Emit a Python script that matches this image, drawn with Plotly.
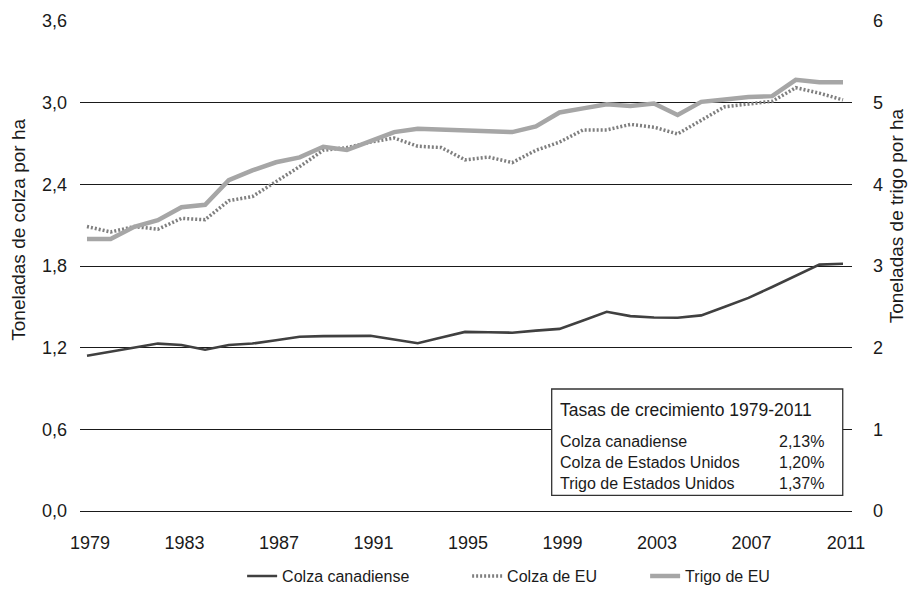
import plotly.graph_objects as go

# rendimientos por hectárea, 1979-2011
years = list(range(1979, 2012))

colza_canadiense = [1.14, 1.17, 1.20, 1.23, 1.22, 1.185, 1.22, 1.23, 1.255, 1.28, 1.285,
                    1.285, 1.287, 1.26, 1.233, 1.275, 1.316, 1.313, 1.31, 1.325, 1.338, 1.40,
                    1.464, 1.432, 1.422, 1.42, 1.437, 1.50, 1.566, 1.646, 1.73, 1.81, 1.816]

colza_eu = [2.09, 2.05, 2.09, 2.07, 2.15, 2.14, 2.28, 2.31, 2.42, 2.53, 2.65,
            2.67, 2.71, 2.74, 2.68, 2.67, 2.58, 2.60, 2.56, 2.65, 2.71, 2.80,
            2.80, 2.84, 2.82, 2.77, 2.87, 2.97, 2.99, 3.01, 3.11, 3.07, 3.02]

trigo_eu = [3.33, 3.33, 3.48, 3.56, 3.72, 3.75, 4.05, 4.17, 4.27, 4.33, 4.46,
            4.42, 4.53, 4.64, 4.68, 4.67, 4.66, 4.65, 4.64, 4.71, 4.88, 4.93,
            4.98, 4.96, 4.99, 4.85, 5.01, 5.04, 5.07, 5.08, 5.28, 5.25, 5.25]

tick_years = [1979, 1983, 1987, 1991, 1995, 1999, 2003, 2007, 2011]
left_ticks = [0, 0.6, 1.2, 1.8, 2.4, 3.0, 3.6]
right_ticks = [0, 1, 2, 3, 4, 5, 6]

box_title = "Tasas de crecimiento 1979-2011"
box_labels = ["Colza canadiense", "Colza de Estados Unidos", "Trigo de Estados Unidos"]
box_rates = ["2,13%", "1,20%", "1,37%"]

FONT = "Liberation Sans, Arial, sans-serif"
TXT = "#1a1a1a"

fig = go.Figure()
fig.add_trace(go.Scatter(x=years, y=colza_canadiense, name="Colza canadiense", mode="lines",
                         line=dict(color="#404040", width=2.6), legendwidth=180))
fig.add_trace(go.Scatter(x=years, y=colza_eu, name="Colza de EU", mode="lines",
                         line=dict(color="#7f7f7f", width=3.5, dash="2px,2px"), legendwidth=133))
fig.add_trace(go.Scatter(x=years, y=trigo_eu, name="Trigo de EU", mode="lines", yaxis="y2",
                         line=dict(color="#a6a6a6", width=4.5), legendwidth=90))

# recuadro con las tasas de crecimiento
fig.add_shape(type="rect", xref="paper", yref="paper", x0=0.611, x1=0.988, y0=0.032, y1=0.249,
              line=dict(color="#333333", width=1.3), fillcolor="white", layer="above")
fig.add_annotation(xref="paper", yref="paper", x=0.619, y=0.207, text=box_title, showarrow=False,
                   xanchor="left", yanchor="middle", font=dict(size=17.5, color=TXT, family=FONT))
fig.add_annotation(xref="paper", yref="paper", x=0.619, y=0.099, text="<br>".join(box_labels),
                   showarrow=False, xanchor="left", yanchor="middle", align="left",
                   font=dict(size=16, color=TXT, family=FONT))
fig.add_annotation(xref="paper", yref="paper", x=0.966, y=0.099, text="<br>".join(box_rates),
                   showarrow=False, xanchor="right", yanchor="middle", align="right",
                   font=dict(size=16, color=TXT, family=FONT))

# títulos de los ejes
fig.add_annotation(xref="paper", yref="paper", x=-0.079, y=0.574, text="Toneladas de colza por ha",
                   textangle=-90, showarrow=False, xanchor="center", yanchor="middle",
                   font=dict(size=19, color=TXT, family=FONT))
fig.add_annotation(xref="paper", yref="paper", x=1.058, y=0.603, text="Toneladas de trigo por ha",
                   textangle=-90, showarrow=False, xanchor="center", yanchor="middle",
                   font=dict(size=19, color=TXT, family=FONT))

fig.update_layout(
    width=908, height=605,
    margin=dict(l=80, r=56, t=21, b=89),
    paper_bgcolor="white", plot_bgcolor="white",
    separators=",.",
    font=dict(family=FONT, size=16, color=TXT),
    showlegend=True,
    legend=dict(orientation="h", x=0.21, y=-0.133, xanchor="left", yanchor="middle",
                font=dict(size=16), itemwidth=30, traceorder="normal"),
    xaxis=dict(range=[1978.704, 2011.381], tickvals=tick_years, showgrid=False, zeroline=False,
               showline=False, ticks="", tickfont=dict(size=18), ticklabelstandoff=19,
               ticklabelshift=3),
    yaxis=dict(range=[0, 3.6], tickvals=left_ticks, tickformat=".1f", showgrid=True,
               gridcolor="#1a1a1a", gridwidth=1.3, zeroline=True, zerolinecolor="#1a1a1a",
               zerolinewidth=1.3, showline=False, ticks="", tickfont=dict(size=18),
               ticklabelstandoff=12, automargin=False),
    yaxis2=dict(range=[0, 6], tickvals=right_ticks, overlaying="y", side="right", showgrid=False,
                zeroline=False, showline=False, ticks="", tickfont=dict(size=18),
                ticklabelstandoff=20, automargin=False),
)

# la página no debe añadir el margen por defecto del body
fig.write_html("out.html", config={"displayModeBar": False},
               post_script="document.body.style.margin='0';")
